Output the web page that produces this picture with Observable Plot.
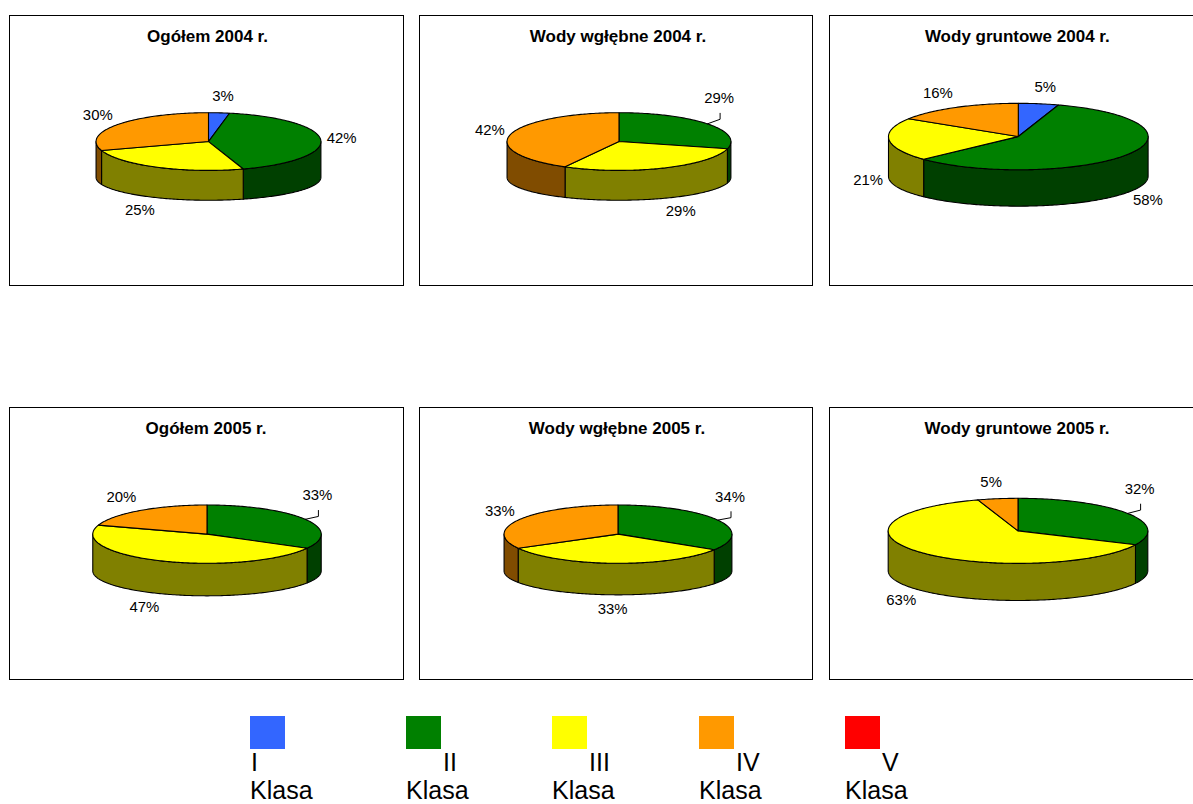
<!DOCTYPE html>
<html>
<head>
<meta charset="utf-8">
<script src="https://cdn.jsdelivr.net/npm/d3@7"></script>
<script src="https://cdn.jsdelivr.net/npm/@observablehq/plot@0.6"></script>
<style>
  html, body { margin: 0; padding: 0; background: #fff; overflow: hidden; width: 1193px; height: 804px; }
  body { position: relative; font-family: Arial, "Liberation Sans", Helvetica, sans-serif; }
  .panel { position: absolute; border: 1px solid #000; box-sizing: border-box; background: #fff; overflow: hidden; }
  .panel .title { position: absolute; top: 10.5px; transform: translateX(-50%); white-space: nowrap;
                  font-weight: bold; font-size: 17px; line-height: 20px; color: #000; }
  .panel svg { position: absolute; left: -1px; top: -1px; overflow: visible; }
  .legend-item { position: absolute; top: 716px; width: 120px; height: 88px; }
  .legend-item .swatch { position: absolute; left: 0; top: 0; width: 35px; height: 33px; }
  .legend-item .label { position: absolute; left: 0; font-size: 25px; line-height: 28px; color: #000; white-space: nowrap; }
  .legend-item .label.first { top: 31.8px; }
  .legend-item .label.second { top: 59.8px; }
</style>
</head>
<body>
<script>
// Water quality classes and their shares (%) in each group of monitoring points
const classes = ["I", "II", "III", "IV", "V"];
const chartTitles = [
  "Ogółem 2004 r.", "Wody wgłębne 2004 r.", "Wody gruntowe 2004 r.",
  "Ogółem 2005 r.", "Wody wgłębne 2005 r.", "Wody gruntowe 2005 r."
];
const sharesTotal2004  = [3, 42, 25, 30, 0];
const sharesDeep2004   = [0, 29, 29, 42, 0];
const sharesGround2004 = [5, 58, 21, 16, 0];
const sharesTotal2005  = [0, 33, 47, 20, 0];
const sharesDeep2005   = [0, 34, 33, 33, 0];
const sharesGround2005 = [0, 32, 63, 5, 0];
const legendWord = "Klasa";

// Colours: top faces and the darker outer walls of each class
const topColors  = ["#3366ff", "#008000", "#ffff00", "#ff9900", "#ff0000"];
const wallColors = ["#1a3380", "#004000", "#808000", "#804c00", "#800000"];

// Panel boxes and the projected pie ellipses (page pixels)
const panels = [
  { title: chartTitles[0], values: sharesTotal2004,  box: [9, 15, 395, 271],   pie: { cx: 209,    cy: 141.7, rx: 113,   ry: 29,   ryb: 23, drop: 36 } },
  { title: chartTitles[1], values: sharesDeep2004,   box: [419, 15, 394, 271], pie: { cx: 619.5,  cy: 141.7, rx: 112.5, ry: 29,   ryb: 23, drop: 36 }, leader: "II" },
  { title: chartTitles[2], values: sharesGround2004, box: [829, 15, 380, 271], pie: { cx: 1018.8, cy: 136.7, rx: 130.5, ry: 33.4, ryb: 30, drop: 40 } },
  { title: chartTitles[3], values: sharesTotal2005,  box: [9, 407, 395, 273],  pie: { cx: 207.5,  cy: 534.3, rx: 114.8, ry: 29.3, ryb: 25, drop: 37 }, leader: "II" },
  { title: chartTitles[4], values: sharesDeep2005,   box: [419, 407, 394, 273],pie: { cx: 618.5,  cy: 534.3, rx: 114.5, ry: 29.3, ryb: 24, drop: 37 }, leader: "II" },
  { title: chartTitles[5], values: sharesGround2005, box: [829, 407, 380, 273],pie: { cx: 1018.5, cy: 531,   rx: 130.5, ry: 32.7, ryb: 30, drop: 40 }, leader: "II" }
];
const legendLeft = [250, 406, 552, 699, 845];

const FONT = 'Arial, "Liberation Sans", Helvetica, sans-serif';
const LABEL_SIZE = 15;
const TAU = Math.PI * 2;

// Arc sampled clockwise from 12 o'clock; returns unit-circle points
function arc(t0, t1, radiusY = 1, shiftY = 0) {
  const n = Math.max(2, Math.ceil((t1 - t0) / (Math.PI / 180)));
  const pts = [];
  for (let k = 0; k <= n; k++) {
    const t = t0 + (t1 - t0) * k / n;
    pts.push({ x: Math.sin(t), y: Math.cos(t) * radiusY + shiftY });
  }
  return pts;
}

function textHalfWidth(str) {
  let w = 0;
  for (const ch of str) w += ch === "%" ? 0.889 : 0.556;
  return w * LABEL_SIZE / 2;
}

function drawPanel(p) {
  const [left, top, w, h] = p.box;
  const { cx, cy, rx, ry, ryb, drop } = p.pie;
  const lcx = cx - left, lcy = cy - top;

  const div = document.createElement("div");
  div.className = "panel";
  Object.assign(div.style, { left: left + "px", top: top + "px", width: w + "px", height: h + "px" });
  const title = document.createElement("div");
  title.className = "title";
  title.textContent = p.title;
  title.style.left = (cx - 1.5 - left - 1) + "px";
  div.appendChild(title);

  // Build slice geometry from the shares
  const tops = [], walls = [], labels = [], leaders = [];
  let cum = 0;
  p.values.forEach((v, i) => {
    if (v <= 0) { cum += v; return; }
    const t0 = cum / 100 * TAU, t1 = (cum + v) / 100 * TAU;
    cum += v;
    const id = classes[i];
    // top face
    const poly = [{ x: 0, y: 0 }, ...arc(t0, t1), { x: 0, y: 0 }];
    poly.forEach(d => tops.push({ ...d, id, fill: topColors[i] }));
    // outer wall, only the front half is visible
    const a = Math.max(t0, Math.PI / 2), b = Math.min(t1, Math.PI * 1.5);
    if (b > a) {
      const upper = arc(a, b);
      const lower = arc(a, b, ryb / ry, -drop / ry).reverse();
      [...upper, ...lower, upper[0]].forEach(d => walls.push({ ...d, id, fill: wallColors[i] }));
    }
    // data label outside the slice
    const tm = (t0 + t1) / 2, s = Math.sin(tm), c = Math.cos(tm);
    const text = v + "%";
    const hw = textHalfWidth(text);
    let px = s * (rx + 6) + hw * s / Math.max(Math.abs(s), 0.3);
    let py = c >= 0 ? -c * (ry + 16.5) : -c * (ryb + 14.5) + drop;
    if (p.leader === id) {
      px -= 8; py -= 15.5;
      leaders.push({ x: (px + 1) / rx, y: -(py + 15) / ry, id });
      leaders.push({ x: (px + 1) / rx, y: -(py + 21) / ry, id });
      leaders.push({ x: s, y: c, id });
    }
    labels.push({ x: px / rx, y: -py / ry, text });
  });

  const svg = Plot.plot({
    width: w, height: h,
    margin: 0,
    style: { fontFamily: FONT, background: "transparent", overflow: "visible" },
    x: { domain: [-1, 1], range: [lcx - rx, lcx + rx], axis: null },
    y: { domain: [-1, 1], range: [lcy + ry, lcy - ry], axis: null },
    color: { type: "identity" },
    marks: [
      Plot.line(walls, { x: "x", y: "y", z: "id", fill: "fill", stroke: "#000", strokeWidth: 1.1, strokeLinejoin: "round" }),
      Plot.line(tops, { x: "x", y: "y", z: "id", fill: "fill", stroke: "#000", strokeWidth: 1.1, strokeLinejoin: "round" }),
      Plot.line(leaders, { x: "x", y: "y", z: "id", stroke: "#000", strokeWidth: 1 }),
      Plot.text(labels, { x: "x", y: "y", text: "text", fontSize: LABEL_SIZE, fontFamily: FONT, fill: "#000" })
    ]
  });
  div.appendChild(svg);
  document.body.appendChild(div);
}

panels.forEach(drawPanel);

// Legend: one swatch per class with its caption below
classes.forEach((cls, i) => {
  const item = document.createElement("div");
  item.className = "legend-item";
  item.style.left = legendLeft[i] + "px";
  const sw = document.createElement("div");
  sw.className = "swatch";
  sw.style.background = topColors[i];
  const l1 = document.createElement("div");
  l1.className = "label first";
  l1.textContent = cls;
  l1.style.left = (i === 0 ? 1 : 37) + "px";
  const l2 = document.createElement("div");
  l2.className = "label second";
  l2.textContent = legendWord;
  item.append(sw, l1, l2);
  document.body.appendChild(item);
});
</script>
</body>
</html>
